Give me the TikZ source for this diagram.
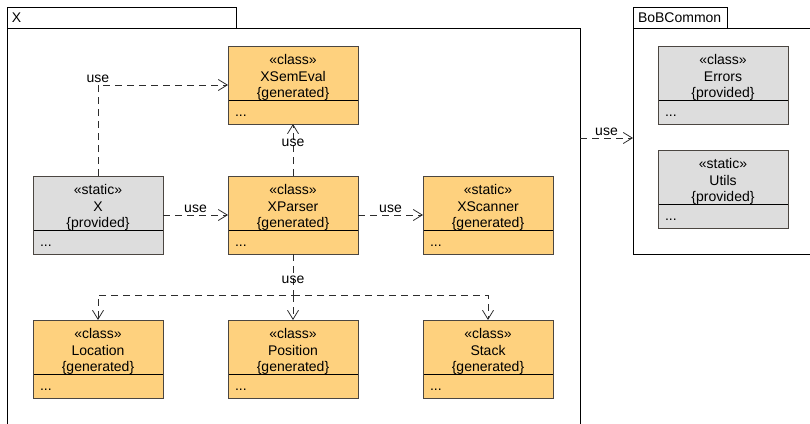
\documentclass[tikz,border=0pt]{standalone}
\usepackage{fontspec}
\setmainfont{Liberation Sans}
\usetikzlibrary{arrows.meta}

\definecolor{genfill}{RGB}{254,209,126}
\definecolor{provfill}{RGB}{221,221,221}
\definecolor{clsline}{RGB}{75,70,65}
\definecolor{depline}{RGB}{45,45,45}

% class box text: stereotype, name, tag, then the "..." compartment
\newcommand{\umlbody}[3]{\parbox[c][78pt][t]{124pt}{\fontsize{14}{16.5}\selectfont
  \centering\rule{0pt}{18.5pt}«#1»\\#2\\\{#3\}\par\vfill
  \raggedright\hspace*{4pt}...\par\vspace{8pt}}}

\begin{document}
\begin{tikzpicture}[x=1pt,y=-1pt,
  pkg/.style={draw=black, line width=0.8pt, inner sep=0pt, outer sep=0pt},
  pkgtab/.style={pkg, anchor=south west, minimum height=21pt, inner xsep=5pt,
    text width=#1, align=left, font=\fontsize{14}{16}\selectfont},
  cls/.style={draw=clsline, line width=0.9pt, inner sep=0pt, outer sep=0pt,
    minimum width=130pt, minimum height=78pt,
    path picture={\draw[black, line width=0.9pt]
      ([yshift=24pt]path picture bounding box.south west) --
      ([yshift=24pt]path picture bounding box.south east);}},
  gen/.style={cls, fill=genfill},
  prov/.style={cls, fill=provfill},
  dep/.style={draw=depline, line width=0.8pt, dash pattern=on 7pt off 5pt,
    -{Straight Barb[length=9pt,width=11pt]}},
  lbl/.style={font=\fontsize{14}{16}\selectfont, inner sep=2pt}]
\useasboundingbox (0,0) rectangle (810,423);
\clip (0,0) rectangle (810,423);

% packages
\node[pkg, anchor=north west, minimum width=573pt, minimum height=412pt] (xpkg) at (7,28) {};
\node[pkgtab=219pt] (xtab) at (xpkg.north west) {X};
\node[pkg, anchor=north west, minimum width=190pt, minimum height=226pt] (bobpkg) at (633,28) {};
\node[pkgtab=84pt] (bobtab) at (bobpkg.north west) {BoBCommon};

% classes of X
\node[gen] (xsem) at (293,85) {\umlbody{class}{XSemEval}{generated}};
\node[prov] (x) at (98,215) {\umlbody{static}{X}{provided}};
\node[gen] (xparser) at (293,215) {\umlbody{class}{XParser}{generated}};
\node[gen] (xscan) at (488,215) {\umlbody{static}{XScanner}{generated}};
\node[gen] (loc) at (98,359) {\umlbody{class}{Location}{generated}};
\node[gen] (posn) at (293,359) {\umlbody{class}{Position}{generated}};
\node[gen] (stack) at (488,359) {\umlbody{class}{Stack}{generated}};

% classes of BoBCommon
\node[prov] (errors) at (723,85) {\umlbody{class}{Errors}{provided}};
\node[prov] (utils) at (723,189) {\umlbody{static}{Utils}{provided}};

% dependencies
\draw[dep] (x) |- node[lbl, above] (use1) {use} (xsem);
\draw[dep] (x) -- node[lbl, above] (use2) {use} (xparser);
\draw[dep] (xparser) -- node[lbl, pos=0.63] (use3) {use} (xsem);
\draw[dep] (xparser) -- node[lbl, above] (use4) {use} (xscan);
\coordinate (fork) at (293,295);
\draw[dep] (xparser) -- node[lbl, pos=0.63] (use5) {use} (fork) -| (loc);
\draw[dep] (fork) -- (posn);
\draw[dep] (fork) -| (stack);
\coordinate (pkguse) at (606,138);
\draw[dep] (xpkg.east |- pkguse) -- node[lbl, above] (use6) {use} (bobpkg.west |- pkguse);
\end{tikzpicture}
\end{document}
